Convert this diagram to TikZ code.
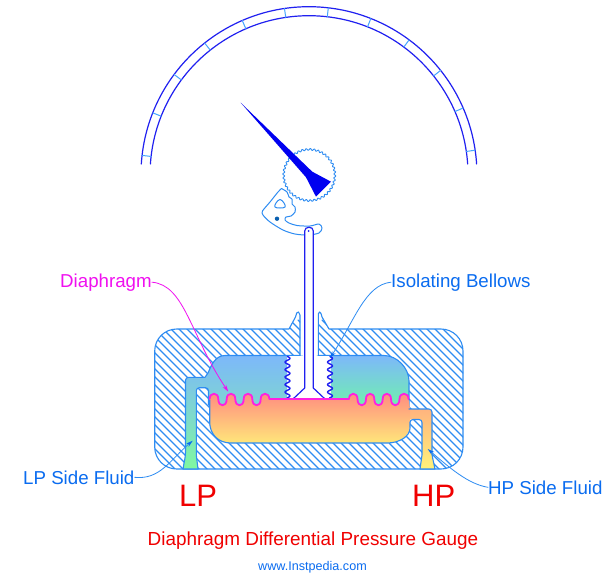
\documentclass[tikz,border=0pt]{standalone}
\usepackage{fontspec}
\setmainfont{Liberation Sans}
\usetikzlibrary{arrows.meta,calc}
\definecolor{hatchblue}{HTML}{2E8CF2}
\definecolor{tickblue}{HTML}{45A5FF}
\definecolor{gaugeblue}{HTML}{2020F0}
\definecolor{needleblue}{HTML}{0000F0}
\definecolor{pivotblue}{HTML}{0A60B0}
\definecolor{lptop}{HTML}{7DB8FA}
\definecolor{lpbot}{HTML}{7FF8A0}
\definecolor{lpright}{HTML}{70F2AD}
\definecolor{hptop}{HTML}{FF8A80}
\definecolor{hpmid}{HTML}{FFE67A}
\definecolor{hparm}{HTML}{FFB47E}
\definecolor{hpbot}{HTML}{FFF27A}
\definecolor{diaphragmcol}{HTML}{FF20E0}
\definecolor{labelmagenta}{HTML}{F010F0}
\definecolor{labelblue}{HTML}{0A6CF0}
\definecolor{titlered}{HTML}{F00000}
\tikzset{
  wall/.style={hatchblue,line width=1.1pt},
  leader/.style={hatchblue,line width=0.8pt,-{Stealth[length=7pt,width=4pt,color=labelblue]}},
  smalllabel/.style={anchor=base west,inner sep=0pt,font=\fontsize{18.7}{20}\selectfont,text=labelblue},
  biglabel/.style={anchor=base west,inner sep=0pt,font=\fontsize{31}{33}\selectfont,text=titlered}
}

\begin{document}
\begin{tikzpicture}[x=1pt,y=-1pt,line cap=round,line join=round]
  \useasboundingbox (0,0) rectangle (616,574);
  \fill[white] (0,0) rectangle (616,574);

  % ---- gauge scale ----
  \draw[gaugeblue,line width=1.2pt] (141.3,164) arc (176.35:3.65:168pt);
  \draw[gaugeblue,line width=1.2pt] (150.4,164) arc (176.14:3.86:159pt);
  \foreach \a in {8.4,23.4,...,173.4}{
    \draw[tickblue,line width=1pt] ($(309,174.7)+(\a:159 and -159)$) -- ($(309,174.7)+(\a:168 and -168)$);
  }

  % ---- toothed sector with pivot ----
  \draw[hatchblue,line width=1pt,fill=white] plot[smooth,tension=0.5] coordinates {(281.5,188.5) (287,192) (289,197) (292,199) (292,204) (295,207) (295,212) (291,216) (286,217) (285,220) (289,223) (297,225.5) (310,226) (319,224) (322,228) (319,233) (308,235) (295,234) (283,230) (270,222) (263,215) (262.5,211) (270,202) (278,192) (281.5,188.5)};
  \draw[hatchblue,line width=1pt] plot[smooth cycle,tension=0.7] coordinates {(280,199.5) (284,203) (285,207) (280,208) (275,207) (276,203)};
  \fill[pivotblue] (277,218.7) circle (2.2);

  % ---- gear and needle ----
  \draw[hatchblue,line width=0.9pt,fill=white] plot[domain=0:360,samples=321,variable=\t,smooth] ({309.3+(25.6+0.9*sin(40*\t))*cos(\t)},{175+(25.6+0.9*sin(40*\t))*sin(\t)}) -- cycle;
  \fill[needleblue] (240.7,102.7) -- (306,177.3) -- (316,196.7) -- (331,181.7) -- (312.3,171.7) -- cycle;

  % ---- hatched body ----
  \begin{scope}
    \clip (300,355.5) -- (300,315) -- (298.5,312) -- (296.7,313) -- (295.5,317) -- (289,329) [rounded corners=22pt] -- (154.7,329) -- (154.7,469) -- (463,469) -- (463,329) [sharp corners] -- (329,329) -- (322,317) -- (321,313.5) -- (319.5,312) -- (318.3,314) -- (318.3,355.5) -- cycle;
    \foreach \h in {-30,-22,...,470}{
      \draw[wall] (\h,320) -- (\h+160,480);
    }
  \end{scope}
  \draw[wall] (300,355.5) -- (300,315) -- (298.5,312) -- (296.7,313) -- (295.5,317) -- (289,329) [rounded corners=22pt] -- (154.7,329) -- (154.7,469) -- (463,469) -- (463,329) [sharp corners] -- (329,329) -- (322,317) -- (321,313.5) -- (319.5,312) -- (318.3,314) -- (318.3,355.5);

  % ---- LP side chamber ----
  \shade[top color=lptop,bottom color=lpbot,draw=hatchblue,line width=1.1pt] (300,355.5) -- (225,355.5) .. controls (215,355.5) and (211,366) .. (208,373) -- (205,377.3) [rounded corners=3pt] -- (185.5,377.3) -- (185.5,455) [sharp corners] -- (183,469) -- (198,469) -- (196.3,455) [rounded corners=3pt] -- (196.3,387.7) -- (208.5,387.7) -- (208.5,407) [sharp corners] -- (300,407) -- cycle;
  \shade[top color=lptop,bottom color=lpright,draw=hatchblue,line width=1.1pt] (318.3,355.5) -- (384,355.5) .. controls (397,355.5) and (409,368) .. (409,381) -- (409,407) -- (318.3,407) -- cycle;

  % ---- space round the stem ----
  \fill[white] (287,356.2) rectangle (331,400);

  % ---- HP side chamber ----
  \shade[top color=hparm,bottom color=hpbot] (409,409) [rounded corners=3pt] -- (432,409) -- (432,455) [sharp corners] -- (435,469) -- (420,469) -- (422,455) [rounded corners=3pt] -- (422,419.5) -- (408,419.5) [sharp corners] -- cycle;
  \shade[top color=hptop,bottom color=hpmid] (209.7,400) -- (209.7,399)
    \foreach \x/\c/\n in {209.7/392/218.3,218.3/407.5/226.7,226.7/392/235.3,235.3/407.5/243.7,243.7/392/252.3,252.3/407.5/260.7,260.7/392/269.3}{
      .. controls (\x,\c) and (\n,\c) .. (\n,399)
    }
    -- (349,399)
    \foreach \x/\c/\n in {349/392/357.5,357.5/407.5/366,366/392/374.3,374.3/407.5/382.7,382.7/392/391,391/407.5/399.5,399.5/392/408.5}{
      .. controls (\x,\c) and (\n,\c) .. (\n,399)
    }
    -- (410,409) -- (410,425) .. controls (410,436) and (400,443) .. (387,443) -- (231,443) .. controls (218,443) and (209.7,434) .. (209.7,422) -- cycle;
  \draw[wall] (409,409) [rounded corners=3pt] -- (432,409) -- (432,455) [sharp corners] -- (435,469) -- (420,469) -- (422,455) [rounded corners=3pt] -- (422,419.5) -- (410,419.5) -- (410,425) [sharp corners] .. controls (410,436) and (400,443) .. (387,443) -- (231,443) .. controls (218,443) and (209.7,434) .. (209.7,422) -- (209.7,400);

  % ---- isolating bellows ----
  \foreach \bx in {287.5,330}{
    \draw[gaugeblue,line width=1.4pt] plot[domain=356.5:398,samples=70,variable=\t,smooth] ({\bx+2.5*sin((\t-356.5)*48)},\t);
  }

  % ---- stem ----
  \draw[gaugeblue,line width=1.2pt,fill=white] (293,399) -- (304.7,388) -- (304.7,231) .. controls (304.7,226) and (313.3,226) .. (313.3,231) -- (313.3,388) -- (325,399);
  \fill[gaugeblue] (308.7,231) circle (1);

  % ---- diaphragm ----
  \draw[diaphragmcol,line width=1.8pt] (209.7,399)
    \foreach \x/\c/\n in {209.7/392/218.3,218.3/407.5/226.7,226.7/392/235.3,235.3/407.5/243.7,243.7/392/252.3,252.3/407.5/260.7,260.7/392/269.3}{
      .. controls (\x,\c) and (\n,\c) .. (\n,399)
    }
    -- (349,399)
    \foreach \x/\c/\n in {349/392/357.5,357.5/407.5/366,366/392/374.3,374.3/407.5/382.7,382.7/392/391,391/407.5/399.5,399.5/392/408.5}{
      .. controls (\x,\c) and (\n,\c) .. (\n,399)
    };

  % ---- labels ----
  \node[smalllabel,text=labelmagenta] (diaphragmlabel) at (60,287) {Diaphragm};
  \node[smalllabel] (bellowslabel) at (391,287) {Isolating Bellows};
  \node[smalllabel] (lpfluid) at (23,484) {LP Side Fluid};
  \node[smalllabel] (hpfluid) at (488,494) {HP Side Fluid};
  \node[biglabel] (lplabel) at (179,506) {LP};
  \node[biglabel] (hplabel) at (412,506) {HP};
  \node[anchor=base,inner sep=0pt,font=\fontsize{18.9}{21}\selectfont,text=titlered] (gaugetitle) at (313,545) {Diaphragm Differential Pressure Gauge};
  \node[anchor=base,inner sep=0pt,font=\fontsize{12.6}{14}\selectfont,text=labelblue] (sitelabel) at (312.5,570) {www.Instpedia.com};

  % ---- leaders ----
  \coordinate (diaphragmtip) at (228.3,391.7);
  \coordinate (bellowstip) at (330,358);
  \coordinate (lptip) at (192.7,440.7);
  \coordinate (hptip) at (427.7,449);
  \draw[leader,labelmagenta,-{Stealth[length=7pt,width=4pt]}] (diaphragmlabel.east) .. controls (185,285) and (190,335) .. (diaphragmtip);
  \draw[leader] (bellowslabel.west) .. controls (365,285) and (355,320) .. (bellowstip);
  \draw[leader] (lpfluid.east) .. controls (160,480) and (170,460) .. (lptip);
  \draw[leader] (hpfluid.west) .. controls (468,484) and (450,468) .. (hptip);
\end{tikzpicture}
\end{document}
